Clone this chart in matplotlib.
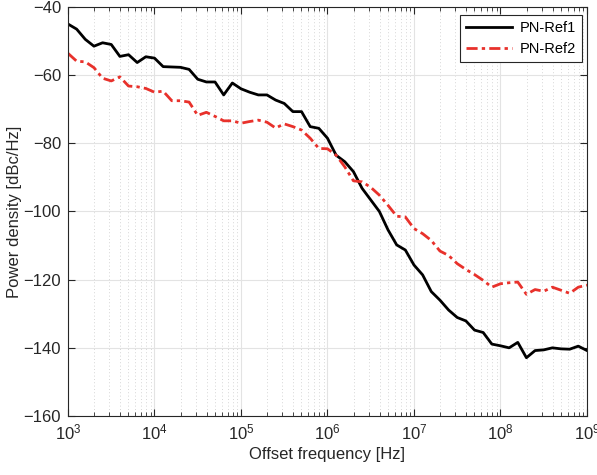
import numpy as np
import matplotlib

matplotlib.use("Agg")
import matplotlib.pyplot as plt
from matplotlib.ticker import LogLocator, NullFormatter, FixedLocator, LogFormatterSciNotation

plt.rcParams["font.family"] = ["Liberation Sans", "DejaVu Sans"]
plt.rcParams["mathtext.fontset"] = "custom"
plt.rcParams["mathtext.rm"] = "Liberation Sans"
plt.rcParams["mathtext.it"] = "Liberation Sans:italic"

# offset frequency grid, 10 points per decade from 1 kHz to 1 GHz
freq = np.logspace(3, 9, 61)

pn_ref1 = [
    -45.0, -46.5, -49.5, -51.5, -50.5, -51.0, -54.5, -54.0, -56.3, -54.6,
    -55.0, -57.5, -57.6, -57.7, -58.3, -61.2, -62.0, -62.0, -65.8, -62.3,
    -64.0, -65.0, -65.8, -65.8, -67.3, -68.3, -70.7, -70.7, -75.1, -75.6,
    -78.5, -83.5, -85.4, -88.3, -93.2, -96.6, -100.0, -105.4, -109.8, -111.3,
    -115.7, -118.6, -123.5, -126.0, -128.9, -131.1, -132.1, -134.8, -135.5, -138.9,
    -139.4, -140.0, -138.4, -142.9, -140.8, -140.6, -140.0, -140.3, -140.4, -139.5,
    -140.8,
]
pn_ref2 = [
    -53.6, -55.9, -56.1, -57.8, -60.9, -61.7, -60.5, -63.2, -63.4, -63.9,
    -65.0, -64.7, -67.5, -67.5, -67.9, -71.8, -70.9, -72.1, -73.4, -73.4,
    -74.1, -73.6, -73.2, -73.8, -75.5, -74.3, -75.1, -76.1, -78.5, -81.5,
    -81.6, -83.5, -86.9, -91.0, -91.3, -92.9, -95.2, -98.2, -101.4, -101.6,
    -105.0, -106.5, -108.5, -111.6, -112.9, -115.3, -117.0, -118.5, -120.2, -122.2,
    -121.2, -120.9, -120.7, -124.3, -122.9, -123.4, -122.2, -123.1, -124.0, -122.2,
    -121.6,
]
series_labels = ["PN-Ref1", "PN-Ref2"]
x_ticks = [1e3, 1e4, 1e5, 1e6, 1e7, 1e8, 1e9]
y_ticks = [-160, -140, -120, -100, -80, -60, -40]

fig = plt.figure(figsize=(5.97, 4.75), dpi=100)
ax = fig.add_axes([0.1139, 0.1242, 0.8693, 0.8611])

ax.plot(freq, pn_ref1, color="black", lw=2, label=series_labels[0])
ax.plot(freq, pn_ref2, color="#e8312b", lw=2, ls=(0, (4, 1.5, 1.2, 1.5)),
        label=series_labels[1])

ax.set_xscale("log")
ax.set_xlim(1e3, 1e9)
ax.set_ylim(-160, -40)
ax.set_yticks(y_ticks)
ax.xaxis.set_major_locator(FixedLocator(x_ticks))
ax.xaxis.set_major_formatter(LogFormatterSciNotation())
ax.xaxis.set_minor_locator(LogLocator(base=10, subs=np.arange(2, 10), numticks=100))
ax.xaxis.set_minor_formatter(NullFormatter())

ax.grid(which="major", color="#e3e3e3", lw=0.8, ls="-")
ax.grid(which="minor", axis="x", color="#c8c8c8", lw=0.6, ls=(0, (1, 3)))
ax.set_axisbelow(True)

ax.tick_params(which="both", direction="in", top=True, right=True,
               labelsize=12, colors="#262626")
ax.tick_params(which="major", length=5, width=0.8, pad=5)
ax.tick_params(which="minor", length=3, width=0.6)
for s in ax.spines.values():
    s.set_color("#262626")
    s.set_linewidth(0.8)

ax.set_xlabel("Offset frequency [Hz]", fontsize=12, color="#262626", labelpad=3)
ax.set_ylabel("Power density [dBc/Hz]", fontsize=12, color="#262626", labelpad=1)

leg = ax.legend(loc="upper right", fontsize=10.5, frameon=True, fancybox=False,
                borderpad=0.4, handlelength=3.2, handletextpad=0.5,
                borderaxespad=0, bbox_to_anchor=(0.990, 0.980), framealpha=1)
leg.get_frame().set_edgecolor("#262626")
leg.get_frame().set_linewidth(0.8)

fig.savefig("out.png", dpi=100)
